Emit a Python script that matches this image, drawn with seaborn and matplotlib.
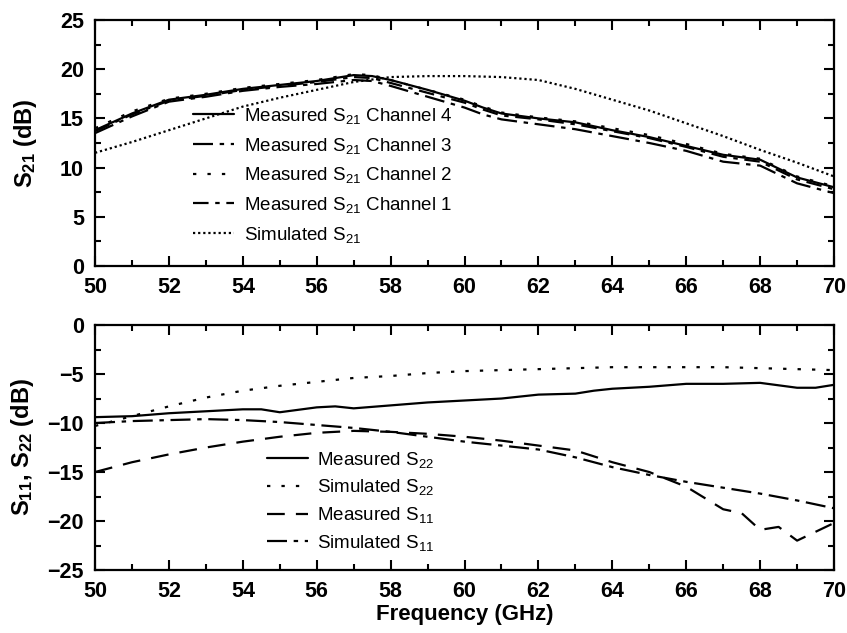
import numpy as np
import pandas as pd
import matplotlib
matplotlib.use("Agg")
import matplotlib.pyplot as plt
import seaborn as sns
from matplotlib.ticker import MultipleLocator

sns.set_theme(style="ticks")
plt.rcParams['font.family'] = ['Liberation Sans', 'DejaVu Sans']
plt.rcParams['mathtext.default'] = 'regular'
for k in ['text.color', 'axes.labelcolor', 'xtick.color', 'ytick.color', 'axes.edgecolor']:
    plt.rcParams[k] = 'black'

# ---- top panel data (S21) ----
freq_meas21 = [50, 51, 52, 53, 54, 55, 56, 57, 57.5, 58, 59, 60, 60.5, 61, 62, 63, 64, 65, 66, 67, 68, 69, 70]
s21_ch4 = [13.8, 15.5, 16.9, 17.4, 18.0, 18.4, 18.8, 19.4, 19.3, 18.9, 17.9, 16.8, 16.1, 15.5, 15.0, 14.6, 13.8, 13.1, 12.2, 11.3, 10.8, 9.0, 8.0]
s21_ch3 = [13.5, 15.2, 16.7, 17.2, 17.8, 18.2, 18.5, 18.9, 18.8, 18.3, 17.2, 16.1, 15.4, 14.9, 14.4, 13.9, 13.2, 12.5, 11.7, 10.6, 10.2, 8.4, 7.4]
s21_ch2 = [14.0, 15.7, 17.0, 17.5, 18.1, 18.5, 18.9, 19.5, 19.4, 18.9, 17.9, 16.9, 16.2, 15.6, 15.1, 14.7, 14.0, 13.3, 12.4, 11.4, 10.9, 9.1, 8.1]
s21_ch1 = [13.7, 15.4, 16.8, 17.3, 17.9, 18.3, 18.7, 19.2, 19.1, 18.6, 17.6, 16.6, 15.9, 15.3, 14.9, 14.4, 13.7, 13.0, 12.1, 11.1, 10.6, 8.8, 7.8]
freq_sim21 = [50, 51, 52, 53, 54, 55, 56, 57, 58, 59, 60, 61, 62, 63, 64, 65, 66, 67, 68, 69, 70]
s21_sim = [11.5, 12.6, 13.8, 15.0, 16.2, 17.1, 17.9, 18.7, 19.2, 19.3, 19.3, 19.2, 18.9, 18.0, 16.9, 15.8, 14.5, 13.2, 11.8, 10.5, 9.1]

# ---- bottom panel data (S11, S22) ----
freq_s22m = [50, 51, 52, 53, 54, 54.5, 55, 56, 56.5, 57, 58, 59, 60, 61, 62, 63, 63.5, 64, 65, 66, 67, 68, 69, 69.5, 70]
s22_meas = [-9.4, -9.3, -9.0, -8.8, -8.6, -8.6, -8.9, -8.4, -8.3, -8.5, -8.2, -7.9, -7.7, -7.5, -7.1, -7.0, -6.7, -6.5, -6.3, -6.0, -6.0, -5.9, -6.4, -6.4, -6.1]
freq_sim = [50, 51, 52, 53, 54, 55, 56, 57, 58, 59, 60, 61, 62, 63, 64, 65, 66, 67, 68, 69, 70]
s22_sim = [-10.3, -9.3, -8.3, -7.4, -6.7, -6.2, -5.8, -5.4, -5.2, -4.9, -4.7, -4.6, -4.5, -4.4, -4.3, -4.3, -4.3, -4.3, -4.4, -4.5, -4.6]
freq_s11m = [50, 51, 52, 53, 54, 55, 56, 57, 58, 59, 60, 61, 62, 63, 64, 65, 66, 67, 67.5, 68, 68.5, 69, 70]
s11_meas = [-15.0, -14.0, -13.2, -12.5, -11.9, -11.4, -11.0, -10.8, -10.9, -11.1, -11.4, -11.8, -12.3, -12.8, -14.0, -15.0, -16.5, -18.8, -19.2, -20.9, -20.6, -22.0, -20.2]
s11_sim = [-10.0, -9.8, -9.7, -9.6, -9.7, -9.9, -10.2, -10.5, -10.9, -11.4, -11.9, -12.3, -12.7, -13.5, -14.5, -15.3, -16.0, -16.6, -17.2, -17.9, -18.7]

xticks = [50, 52, 54, 56, 58, 60, 62, 64, 66, 68, 70]

fig = plt.figure(figsize=(8.47, 6.33), dpi=100)
ax1 = fig.add_axes([0.1122, 0.5798, 0.8725, 0.3886])
ax2 = fig.add_axes([0.1122, 0.0995, 0.8725, 0.387])

lw = 1.6
top_series = [
    (freq_meas21, s21_ch4, r'Measured S$_{21}$ Channel 4', '-'),
    (freq_meas21, s21_ch3, r'Measured S$_{21}$ Channel 3', (0, (9, 3, 2, 3))),
    (freq_meas21, s21_ch2, r'Measured S$_{21}$ Channel 2', (0, (1.5, 5))),
    (freq_meas21, s21_ch1, r'Measured S$_{21}$ Channel 1', (0, (7, 3, 2, 3))),
    (freq_sim21, s21_sim, r'Simulated S$_{21}$', (0, (1, 1.3))),
]
for x, y, lab, ls in top_series:
    sns.lineplot(x=x, y=y, ax=ax1, color='black', linestyle=ls, linewidth=lw, label=lab)

bot_series = [
    (freq_s22m, s22_meas, r'Measured S$_{22}$', '-'),
    (freq_sim, s22_sim, r'Simulated S$_{22}$', (0, (1.5, 5))),
    (freq_s11m, s11_meas, r'Measured S$_{11}$', (0, (8, 5))),
    (freq_sim, s11_sim, r'Simulated S$_{11}$', (0, (9, 3, 2, 3))),
]
for x, y, lab, ls in bot_series:
    sns.lineplot(x=x, y=y, ax=ax2, color='black', linestyle=ls, linewidth=lw, label=lab)

ax1.set_ylim(0, 25)
ax1.set_yticks([0, 5, 10, 15, 20, 25])
ax2.set_ylim(-25, 0)
ax2.set_yticks([-25, -20, -15, -10, -5, 0])

for ax in (ax1, ax2):
    ax.set_xlim(50, 70)
    ax.set_xticks(xticks)
    ax.xaxis.set_minor_locator(MultipleLocator(1))
    ax.yaxis.set_minor_locator(MultipleLocator(2.5))
    ax.tick_params(which='both', direction='in', top=True, right=True, color='black')
    ax.tick_params(which='major', length=7, width=1.5, labelsize=15.5, pad=8)
    ax.tick_params(which='minor', length=4, width=1.5)
    for lab in ax.get_xticklabels() + ax.get_yticklabels():
        lab.set_fontweight('bold')
    for sp in ax.spines.values():
        sp.set_linewidth(1.6)
        sp.set_color('black')

ax1.set_xlabel('')
ax1.set_ylabel(r'S$_{21}$ (dB)', fontsize=17, fontweight='bold', labelpad=15)
ax2.set_ylabel(r'S$_{11}$, S$_{22}$ (dB)', fontsize=17, fontweight='bold', labelpad=8)
ax2.set_xlabel('Frequency (GHz)', fontsize=16, fontweight='bold', labelpad=1)

ax1.legend(loc='upper left', bbox_to_anchor=(0.11, 0.72), frameon=False, fontsize=13.5,
           handlelength=2.2, handletextpad=0.5, labelspacing=0.52)
ax2.legend(loc='upper left', bbox_to_anchor=(0.21, 0.56), frameon=False, fontsize=13.5,
           handlelength=2.2, handletextpad=0.45, labelspacing=0.41)

fig.savefig('out.png', dpi=100)
